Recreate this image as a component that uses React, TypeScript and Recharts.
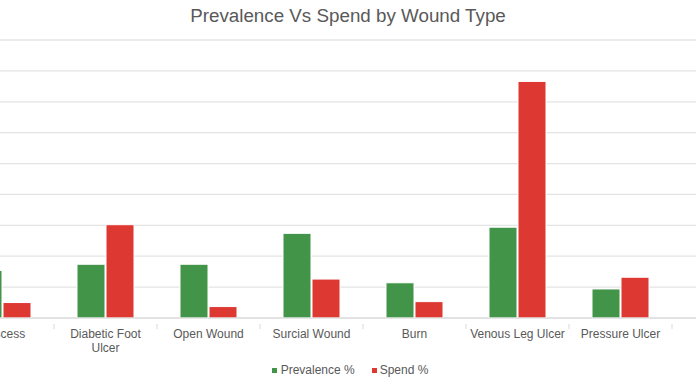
import React from "react";
import { BarChart, Bar, XAxis, YAxis, CartesianGrid } from "recharts";

const categories = [
  "Abscess",
  "Diabetic Foot Ulcer",
  "Open Wound",
  "Surcial Wound",
  "Burn",
  "Venous Leg Ulcer",
  "Pressure Ulcer",
];
const prevalence = [7.7, 8.7, 8.7, 13.7, 5.7, 14.7, 4.7];
const spend = [2.5, 15.1, 1.85, 6.3, 2.65, 38.3, 6.6];
const yTicks = [0, 5, 10, 15, 20, 25, 30, 35, 40, 45];

const data = categories.map((name, i) => ({
  name,
  prevalence: prevalence[i],
  spend: spend[i],
}));

const GREEN = "#429448";
const RED = "#dd3832";
const FONT = "'Liberation Sans', Arial, Helvetica, sans-serif";

const CAT_W = 103;
const N = categories.length;
const CHART_W = CAT_W * (N + 1);
const MAX_CHARS = 17;

function wrapLabel(s: string): string[] {
  if (s.length <= MAX_CHARS) return [s];
  const cut = s.lastIndexOf(" ", MAX_CHARS);
  if (cut < 0) return [s];
  return [s.slice(0, cut), s.slice(cut + 1)];
}

const Tick = (props: any) => {
  const { x, y, payload, index } = props;
  const half = CAT_W / 2;
  const lines = wrapLabel(String(payload.value));
  return (
    <g>
      <line x1={x - half} x2={x - half} y1={y - 2} y2={y + 3} stroke="#d9d9d9" />
      {index === N - 1 && (
        <line x1={x + half} x2={x + half} y1={y - 2} y2={y + 3} stroke="#d9d9d9" />
      )}
      <text x={x} y={y + 12} textAnchor="middle" fill="#595959" style={{ fontSize: 12, fontFamily: FONT }}>
        {lines.map((l, i) => (
          <tspan key={i} x={x} dy={i === 0 ? 0 : 14}>
            {l}
          </tspan>
        ))}
      </text>
    </g>
  );
};

export default function App() {
  return (
    <div
      style={{
        position: "fixed",
        left: 0,
        top: 0,
        width: 696,
        height: 385,
        overflow: "hidden",
        background: "#fff",
        fontFamily: FONT,
      }}
    >
      <div
        style={{
          position: "absolute",
          left: 0,
          width: 696,
          top: 4,
          textAlign: "center",
          fontSize: 18.8,
          color: "#595959",
          lineHeight: "24px",
        }}
      >
        Prevalence Vs Spend by Wound Type
      </div>
      <div style={{ position: "absolute", left: -49, top: 0 }}>
        <BarChart
          width={CHART_W}
          height={385}
          data={data}
          margin={{ top: 40, right: 0, left: 0, bottom: 0 }}
          barCategoryGap={23}
          barGap={1}
        >
          <CartesianGrid vertical={false} stroke="#e4e4e4" strokeWidth={1.3} />
          <YAxis hide domain={[0, 45]} ticks={yTicks} />
          <XAxis
            dataKey="name"
            height={67}
            interval={0}
            tickLine={false}
            axisLine={{ stroke: "#d9d9d9" }}
            padding={{ left: 0, right: CAT_W }}
            tick={<Tick />}
          />
          <Bar dataKey="prevalence" name="Prevalence %" fill={GREEN} stroke="#ffffff" strokeWidth={1} isAnimationActive={false} />
          <Bar dataKey="spend" name="Spend %" fill={RED} stroke="#ffffff" strokeWidth={1} isAnimationActive={false} />
        </BarChart>
      </div>
      <div
        style={{
          position: "absolute",
          top: 362,
          left: 0,
          width: 696,
          display: "flex",
          justifyContent: "center",
          fontSize: 12,
          color: "#595959",
          lineHeight: "16px",
        }}
      >
        <div style={{ display: "flex", alignItems: "center", marginRight: 17, marginLeft: 4 }}>
          <span style={{ width: 5, height: 5, background: GREEN, display: "inline-block", marginRight: 4 }} />
          Prevalence %
        </div>
        <div style={{ display: "flex", alignItems: "center" }}>
          <span style={{ width: 5, height: 5, background: RED, display: "inline-block", marginRight: 3 }} />
          Spend %
        </div>
      </div>
    </div>
  );
}
